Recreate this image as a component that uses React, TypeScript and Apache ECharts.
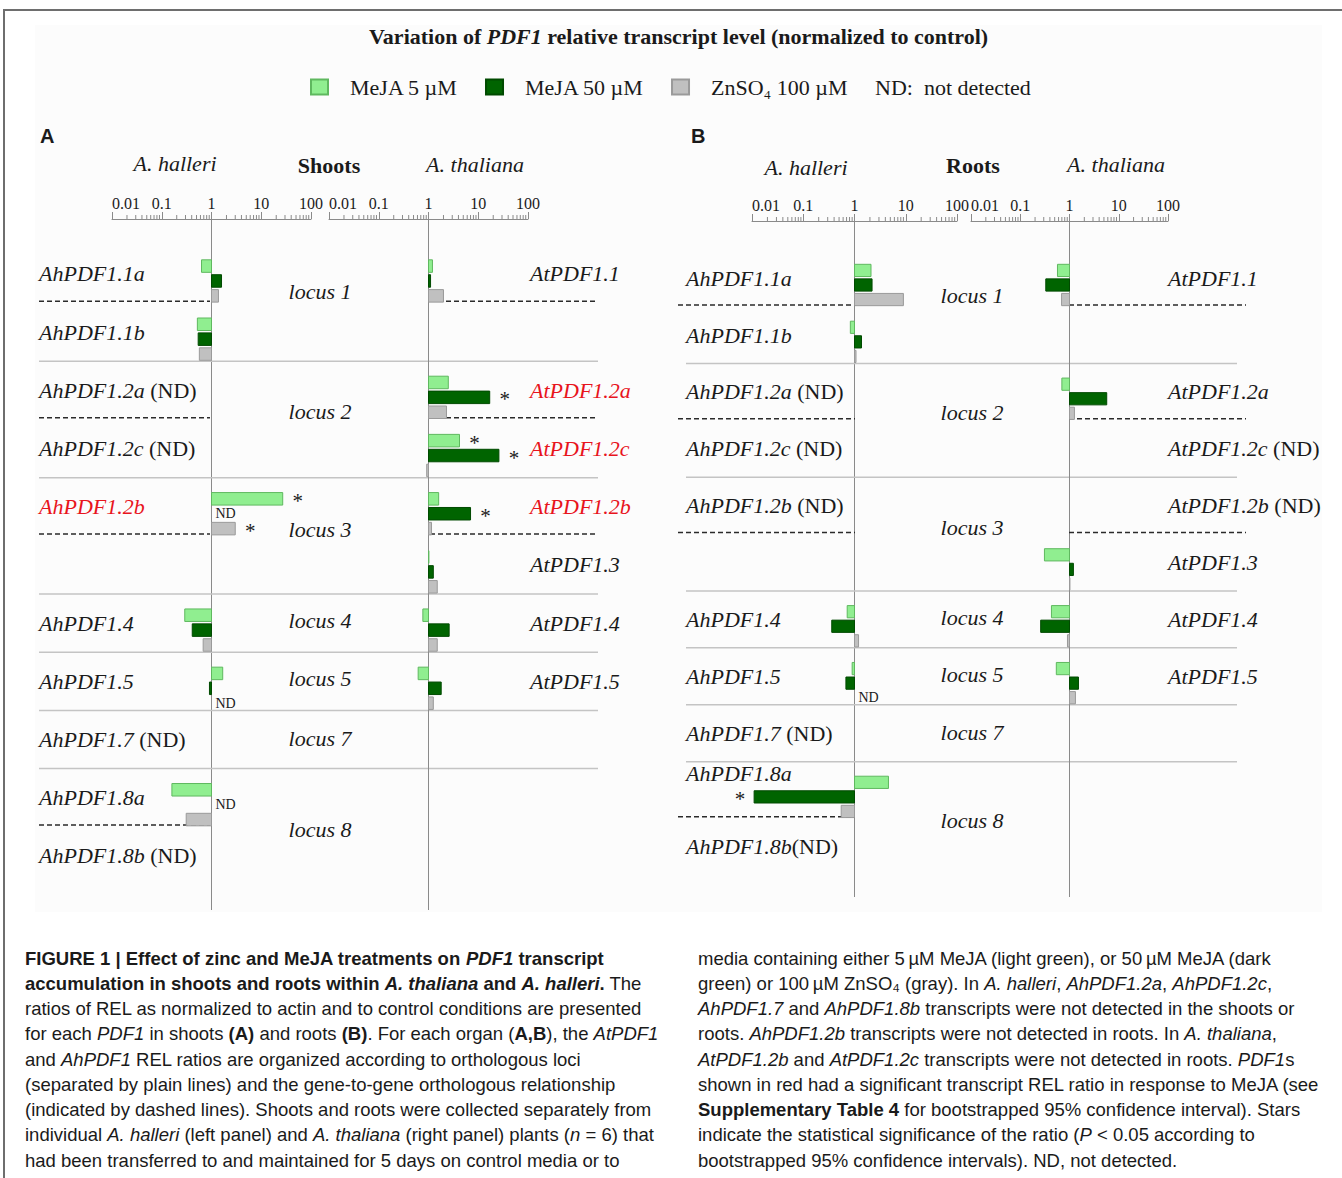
import React, { useEffect, useRef } from 'react';
import * as echarts from 'echarts';

// ---------------- data ----------------
const treatments = ['MeJA 5 µM', 'MeJA 50 µM', 'ZnSO₄ 100 µM'];
const treatmentColors = ['#90ee90', '#006400', '#c0c0c0'];
const treatmentBorders = ['#5fb85f', '#004a00', '#9a9a9a'];

const tickValues = [0.01, 0.1, 1, 10, 100];
const tickLabels = ['0.01', '0.1', '1', '10', '100'];
const minorTickValues = [
  0.02, 0.03, 0.04, 0.05, 0.06, 0.07, 0.08, 0.09,
  0.2, 0.3, 0.4, 0.5, 0.6, 0.7, 0.8, 0.9,
  2, 3, 4, 5, 6, 7, 8, 9,
  20, 30, 40, 50, 60, 70, 80, 90,
];

const shootsAhLabels = ['AhPDF1.1a', 'AhPDF1.1b', 'AhPDF1.2a (ND)', 'AhPDF1.2c (ND)', 'AhPDF1.2b', '', 'AhPDF1.4', 'AhPDF1.5', 'AhPDF1.7 (ND)', 'AhPDF1.8a', 'AhPDF1.8b (ND)'];
const shootsAtLabels = ['AtPDF1.1', '', 'AtPDF1.2a', 'AtPDF1.2c', 'AtPDF1.2b', 'AtPDF1.3', 'AtPDF1.4', 'AtPDF1.5', '', '', ''];
const rootsAhLabels = ['AhPDF1.1a', 'AhPDF1.1b', 'AhPDF1.2a (ND)', 'AhPDF1.2c (ND)', 'AhPDF1.2b (ND)', '', 'AhPDF1.4', 'AhPDF1.5', 'AhPDF1.7 (ND)', 'AhPDF1.8a', 'AhPDF1.8b(ND)'];
const rootsAtLabels = ['AtPDF1.1', '', 'AtPDF1.2a', 'AtPDF1.2c (ND)', 'AtPDF1.2b (ND)', 'AtPDF1.3', 'AtPDF1.4', 'AtPDF1.5', '', '', ''];
const significantLabels = ['shoots:AhPDF1.2b', 'shoots:AtPDF1.2a', 'shoots:AtPDF1.2c', 'shoots:AtPDF1.2b'];

const locusNames = ['locus 1', 'locus 2', 'locus 3', 'locus 4', 'locus 5', 'locus 7', 'locus 8'];
const locusRows = [[0, 1], [2, 3], [4, 5], [6], [7], [8], [9, 10]];
const locusSeparatorAfter = [1, 3, 5, 6, 7, 8];
const ahOrthologDashAfter = [0, 2, 4, 9];
const atOrthologDashAfter = [0, 2, 4];

// ratio to control; null = no bar, 'ND' = not detected
const shootsAhMeJA5 = [0.63, 0.52, null, null, 27, null, 0.29, 1.68, null, 0.16, null];
const shootsAhMeJA50 = [1.59, 0.54, null, null, 'ND', null, 0.41, 0.91, null, 'ND', null];
const shootsAhZn = [1.38, 0.57, null, null, 3.0, null, 0.68, 'ND', null, 0.31, null];
const shootsAtMeJA5 = [1.2, null, 2.5, 4.2, 1.6, 1.02, 0.77, 0.62, null, null, null];
const shootsAtMeJA50 = [1.1, null, 17, 26, 7.0, 1.25, 2.6, 1.8, null, null, null];
const shootsAtZn = [2.0, null, 2.3, 0.92, 1.15, 1.5, 1.5, 1.25, null, null, null];

const rootsAhMeJA5 = [2.1, 0.83, null, null, null, null, 0.72, 0.9, null, 4.6, null];
const rootsAhMeJA50 = [2.2, 1.37, null, null, null, null, 0.36, 0.68, null, 0.011, null];
const rootsAhZn = [9.0, 1.07, null, null, null, null, 1.2, 'ND', null, 0.55, null];
const rootsAtMeJA5 = [0.57, null, 0.7, null, null, 0.31, 0.43, 0.54, null, null, null];
const rootsAtMeJA50 = [0.33, null, 5.7, null, null, 1.2, 0.26, 1.52, null, null, null];
const rootsAtZn = [0.69, null, 1.26, null, null, 1.02, 0.91, 1.32, null, null, null];

// significance stars: [gene row, treatment index]
const shootsAhStars = [[4, 0], [4, 2]];
const shootsAtStars = [[2, 1], [3, 0], [3, 1], [4, 1]];
const rootsAhStars = [[9, 1]];
const rootsAtStars: number[][] = [];

// ---------------- layout / style ----------------
const SERIF = '"Liberation Serif", "Times New Roman", Times, serif';
const SANS = '"Liberation Sans", Arial, Helvetica, sans-serif';
const BAR_PITCH = 0.256;
const BAR_HEIGHT = 0.215;
const LABEL_SHIFT = -0.12;
const SEP_OFFSET = 0.38;
const DASH_OFFSET = 0.35;
const LOCUS_SHIFTS = [-0.32, -0.26, -0.23, -0.16, -0.16, -0.14, -0.08];
const AXIS_GRAY = '#8a8a8a';

const panels = [
  {
    key: 'shoots',
    top: 219, height: 691, yMin: -1.065, yMax: 10.81,
    grids: [{ left: 112, width: 199 }, { left: 329, width: 199 }],
    labelX: [39, 530], locusX: 320, sepX: [39, 598], dashX: [[39, 210], [430, 598]],
    sides: [
      { labels: shootsAhLabels, values: [shootsAhMeJA5, shootsAhMeJA50, shootsAhZn], stars: shootsAhStars, dashes: ahOrthologDashAfter },
      { labels: shootsAtLabels, values: [shootsAtMeJA5, shootsAtMeJA50, shootsAtZn], stars: shootsAtStars, dashes: atOrthologDashAfter },
    ],
    labelExtraShift: {} as Record<string, number>,
  },
  {
    key: 'roots',
    top: 221, height: 676, yMin: -1.125, yMax: 10.76,
    grids: [{ left: 752, width: 205 }, { left: 971, width: 197 }],
    labelX: [686, 1168], locusX: 972, sepX: [686, 1237], dashX: [[678, 855], [1069, 1246]],
    sides: [
      { labels: rootsAhLabels, values: [rootsAhMeJA5, rootsAhMeJA50, rootsAhZn], stars: rootsAhStars, dashes: ahOrthologDashAfter },
      { labels: rootsAtLabels, values: [rootsAtMeJA5, rootsAtMeJA50, rootsAtZn], stars: rootsAtStars, dashes: atOrthologDashAfter },
    ],
    labelExtraShift: { '0-9': -0.3 } as Record<string, number>,
  },
];

const labelRich = {
  i: { fontFamily: SERIF, fontSize: 22, fontStyle: 'italic' },
  n: { fontFamily: SERIF, fontSize: 22, fontStyle: 'normal' },
};

function geneLabelText(label: string) {
  const m = label.match(/^(.*?)(\s?\(ND\))?$/);
  const main = m ? m[1] : label;
  const nd = m && m[2] ? m[2] : '';
  return `{i|${main}}` + (nd ? `{n|${nd}}` : '');
}

function makeBarRenderer(t: number) {
  return (params: any, api: any) => {
    const v = api.value(0);
    const g = api.value(1);
    const yc = g + (t - 1) * BAR_PITCH;
    const p0 = api.coord([1, yc - BAR_HEIGHT / 2]);
    const p1 = api.coord([v, yc + BAR_HEIGHT / 2]);
    return {
      type: 'rect',
      shape: { x: Math.min(p0[0], p1[0]), y: p0[1], width: Math.abs(p1[0] - p0[0]), height: p1[1] - p0[1] },
      style: { fill: treatmentColors[t], stroke: treatmentBorders[t], lineWidth: 1 },
    };
  };
}

function makeDecorRenderer(panel: any, sideIdx: number) {
  const side = panel.sides[sideIdx];
  return (params: any, api: any) => {
    const cs = params.coordSys;
    const xOne = api.coord([1, 0])[0];
    const yOf = (r: number) => api.coord([1, r])[1];
    const children: any[] = [];
    // reference line at ratio = 1
    children.push({ type: 'line', shape: { x1: xOne, y1: cs.y, x2: xOne, y2: cs.y + cs.height }, style: { stroke: AXIS_GRAY, lineWidth: 1 } });
    // logarithmic minor ticks of the ruler
    minorTickValues.forEach((m) => {
      const x = api.coord([m, 0])[0];
      children.push({ type: 'line', shape: { x1: x, y1: cs.y, x2: x, y2: cs.y - 4 }, style: { stroke: AXIS_GRAY, lineWidth: 1 } });
    });
    // gene labels
    side.labels.forEach((lab: string, i: number) => {
      if (!lab) return;
      const main = lab.replace(/\s?\(ND\)$/, '');
      const red = significantLabels.includes(`${panel.key}:${main}`);
      const extra = panel.labelExtraShift[`${sideIdx}-${i}`] || 0;
      children.push({
        type: 'text', x: panel.labelX[sideIdx], y: yOf(i + LABEL_SHIFT + extra),
        style: { text: geneLabelText(lab), rich: labelRich, fontFamily: SERIF, fontSize: 22, fill: red ? '#e8141c' : '#1a1a1a', align: 'left', verticalAlign: 'middle' },
      });
    });
    // ND markers for single treatments
    side.values.forEach((arr: any[], t: number) => {
      arr.forEach((v, i) => {
        if (v !== 'ND') return;
        children.push({
          type: 'text', x: xOne + 4, y: yOf(i + (t - 1) * BAR_PITCH),
          style: { text: 'ND', fontFamily: SERIF, fontSize: 14, fill: '#1a1a1a', align: 'left', verticalAlign: 'middle' },
        });
      });
    });
    // significance stars
    side.stars.forEach(([g, t]: number[]) => {
      const v = side.values[t][g];
      const xe = api.coord([v, 0])[0];
      const dx = v >= 1 ? 15 : -14;
      children.push({
        type: 'text', x: xe + dx, y: yOf(g + (t - 1) * BAR_PITCH) + 2,
        style: { text: '*', fontFamily: SERIF, fontSize: 21, fill: '#1a1a1a', align: 'center', verticalAlign: 'middle' },
      });
    });
    // ortholog dashed lines
    side.dashes.forEach((r: number) => {
      const y = yOf(r + DASH_OFFSET);
      children.push({ type: 'line', shape: { x1: panel.dashX[sideIdx][0], y1: y, x2: panel.dashX[sideIdx][1], y2: y }, style: { stroke: '#2a2a2a', lineWidth: 1.5, lineDash: [5, 3] } });
    });
    if (sideIdx === 0) {
      // locus separators
      locusSeparatorAfter.forEach((r) => {
        const y = yOf(r + SEP_OFFSET);
        children.push({ type: 'line', shape: { x1: panel.sepX[0], y1: y, x2: panel.sepX[1], y2: y }, style: { stroke: '#c4c4c4', lineWidth: 1.5 } });
      });
      // locus labels
      locusNames.forEach((name, k) => {
        const rows = locusRows[k];
        const mid = (rows[0] + rows[rows.length - 1]) / 2;
        children.push({
          type: 'text', x: panel.locusX, y: yOf(mid + LOCUS_SHIFTS[k]),
          style: { text: name, fontFamily: SERIF, fontSize: 22, fontStyle: 'italic', fill: '#1a1a1a', align: 'center', verticalAlign: 'middle' },
        });
      });
    }
    return { type: 'group', children };
  };
}

// ---------------- caption ----------------
const captionLeft = [
  [['b', 'FIGURE 1 | Effect of zinc and MeJA treatments on '], ['bi', 'PDF1'], ['b', ' transcript']],
  [['b', 'accumulation in shoots and roots within '], ['bi', 'A. thaliana'], ['b', ' and '], ['bi', 'A. halleri'], ['b', '.'], ['r', ' The']],
  [['r', 'ratios of REL as normalized to actin and to control conditions are presented']],
  [['r', 'for each '], ['i', 'PDF1'], ['r', ' in shoots '], ['b', '(A)'], ['r', ' and roots '], ['b', '(B)'], ['r', '. For each organ ('], ['b', 'A,B'], ['r', '), the '], ['i', 'AtPDF1']],
  [['r', 'and '], ['i', 'AhPDF1'], ['r', ' REL ratios are organized according to orthologous loci']],
  [['r', '(separated by plain lines) and the gene-to-gene orthologous relationship']],
  [['r', '(indicated by dashed lines). Shoots and roots were collected separately from']],
  [['r', 'individual '], ['i', 'A. halleri'], ['r', ' (left panel) and '], ['i', 'A. thaliana'], ['r', ' (right panel) plants ('], ['i', 'n'], ['r', ' = 6) that']],
  [['r', 'had been transferred to and maintained for 5 days on control media or to']],
];
const captionRight = [
  [['r', 'media containing either 5\u2009µM MeJA (light green), or 50\u2009µM MeJA (dark']],
  [['r', 'green) or 100\u2009µM ZnSO₄ (gray). In '], ['i', 'A. halleri'], ['r', ', '], ['i', 'AhPDF1.2a'], ['r', ', '], ['i', 'AhPDF1.2c'], ['r', ',']],
  [['i', 'AhPDF1.7'], ['r', ' and '], ['i', 'AhPDF1.8b'], ['r', ' transcripts were not detected in the shoots or']],
  [['r', 'roots. '], ['i', 'AhPDF1.2b'], ['r', ' transcripts were not detected in roots. In '], ['i', 'A. thaliana'], ['r', ',']],
  [['i', 'AtPDF1.2b'], ['r', ' and '], ['i', 'AtPDF1.2c'], ['r', ' transcripts were not detected in roots. '], ['i', 'PDF1'], ['r', 's']],
  [['r', 'shown in red had a significant transcript REL ratio in response to MeJA (see']],
  [['b', 'Supplementary Table 4'], ['r', ' for bootstrapped 95% confidence interval). Stars']],
  [['r', 'indicate the statistical significance of the ratio ('], ['i', 'P'], ['r', ' < 0.05 according to']],
  [['r', 'bootstrapped 95% confidence intervals). ND, not detected.']],
];
const CAP_SIZE = 18.5;
const captionRich = {
  r: { fontFamily: SANS, fontSize: CAP_SIZE, fontWeight: 'normal', fontStyle: 'normal' },
  b: { fontFamily: SANS, fontSize: CAP_SIZE, fontWeight: 'bold', fontStyle: 'normal' },
  i: { fontFamily: SANS, fontSize: CAP_SIZE, fontWeight: 'normal', fontStyle: 'italic' },
  bi: { fontFamily: SANS, fontSize: CAP_SIZE, fontWeight: 'bold', fontStyle: 'italic' },
};

function buildOption() {
  const grid: any[] = [];
  const xAxis: any[] = [];
  const yAxis: any[] = [];
  const series: any[] = [];
  let gi = 0;
  panels.forEach((panel) => {
    panel.grids.forEach((g, sideIdx) => {
      grid.push({ left: g.left, width: g.width, top: panel.top, height: panel.height, containLabel: false });
      xAxis.push({
        type: 'log', logBase: 10, min: 0.01, max: 100, gridIndex: gi, position: 'top',
        axisLine: { show: true, onZero: false, lineStyle: { color: AXIS_GRAY, width: 1 } },
        axisTick: { show: true, length: 7, inside: false, lineStyle: { color: AXIS_GRAY, width: 1 } },
        axisLabel: {
          show: true, margin: 8, fontSize: 16, fontFamily: SERIF, color: '#1a1a1a',
          showMinLabel: true, showMaxLabel: true, alignMinLabel: 'left',
          formatter: (v: number) => {
            const k = tickValues.findIndex((t) => Math.abs(Math.log10(t) - Math.log10(v)) < 1e-6);
            return k >= 0 ? tickLabels[k] : '';
          },
        },
        splitLine: { show: false },
      });
      yAxis.push({ type: 'value', gridIndex: gi, inverse: true, min: panel.yMin, max: panel.yMax, show: false });
      const side = panel.sides[sideIdx];
      side.values.forEach((arr: any[], t: number) => {
        series.push({
          type: 'custom', name: treatments[t], xAxisIndex: gi, yAxisIndex: gi, z: 3,
          itemStyle: { color: treatmentColors[t], borderColor: treatmentBorders[t], borderWidth: 1 },
          data: arr.map((v, i) => (typeof v === 'number' ? [v, i] : null)).filter((d) => d !== null),
          renderItem: makeBarRenderer(t),
        });
      });
      series.push({
        type: 'custom', name: `${panel.key}-${sideIdx}-annotations`, xAxisIndex: gi, yAxisIndex: gi, z: 2, silent: true,
        data: [[1, 0]],
        renderItem: makeDecorRenderer(panel, sideIdx),
      });
      gi += 1;
    });
  });

  const txt = (x: number, y: number, text: string, extra: any = {}) => ({
    type: 'text', x, y,
    style: { text, fontFamily: SERIF, fontSize: 22, fill: '#1a1a1a', align: 'center', verticalAlign: 'middle', ...extra },
  });

  const graphic: any[] = [
    { type: 'rect', z: -10, shape: { x: 35, y: 25, width: 1287, height: 887 }, style: { fill: '#fcfcfc' } },
    { type: 'line', shape: { x1: 3, y1: 10, x2: 1342, y2: 10 }, style: { stroke: '#6e6e6e', lineWidth: 2 } },
    { type: 'line', shape: { x1: 4, y1: 10, x2: 4, y2: 1178 }, style: { stroke: '#6e6e6e', lineWidth: 2 } },
    txt(875, 87, 'ND:\u00a0 not detected', { align: 'left' }),
    txt(40, 136, 'A', { fontFamily: SANS, fontWeight: 'bold', fontSize: 20, align: 'left' }),
    txt(691, 136, 'B', { fontFamily: SANS, fontWeight: 'bold', fontSize: 20, align: 'left' }),
    txt(175, 163, 'A. halleri', { fontStyle: 'italic' }),
    txt(329, 165, 'Shoots', { fontWeight: 'bold' }),
    txt(475, 164, 'A. thaliana', { fontStyle: 'italic' }),
    txt(806, 167, 'A. halleri', { fontStyle: 'italic' }),
    txt(973, 165, 'Roots', { fontWeight: 'bold' }),
    txt(1116, 164, 'A. thaliana', { fontStyle: 'italic' }),
  ];
  const lineY0 = 958;
  const lineStep = 25.25;
  [[captionLeft, 25], [captionRight, 698]].forEach(([lines, x]: any) => {
    lines.forEach((segs: string[][], k: number) => {
      graphic.push({
        type: 'text', x, y: lineY0 + k * lineStep,
        style: {
          text: segs.map(([s, t]) => `{${s}|${t}}`).join(''),
          rich: captionRich, fontFamily: SANS, fontSize: CAP_SIZE, fill: '#1a1a1a', align: 'left', verticalAlign: 'middle',
        },
      });
    });
  });

  return {
    animation: false,
    backgroundColor: '#ffffff',
    title: {
      text: '{a|Variation of }{b|PDF1}{a| relative transcript level (normalized to control)}',
      left: 369, top: 25, padding: 0,
      textStyle: {
        rich: {
          a: { fontFamily: SERIF, fontSize: 22, fontWeight: 'bold', color: '#1a1a1a' },
          b: { fontFamily: SERIF, fontSize: 22, fontWeight: 'bold', fontStyle: 'italic', color: '#1a1a1a' },
        },
      },
    },
    legend: {
      data: treatments, left: 310, top: 76, padding: 0, itemGap: 27, icon: 'rect', itemWidth: 17, itemHeight: 15,
      selectedMode: false,
      textStyle: { fontFamily: SERIF, fontSize: 22, color: '#1a1a1a', padding: [0, 0, 0, 17] },
    },
    grid, xAxis, yAxis, series, graphic,
  };
}

export default function App() {
  const ref = useRef<HTMLDivElement>(null);
  useEffect(() => {
    if (!ref.current) return;
    const chart = echarts.init(ref.current, undefined, { renderer: 'svg' });
    chart.setOption(buildOption() as any);
    return () => chart.dispose();
  }, []);
  return <div ref={ref} style={{ position: 'absolute', left: 0, top: 0, width: 1342, height: 1178 }} />;
}
